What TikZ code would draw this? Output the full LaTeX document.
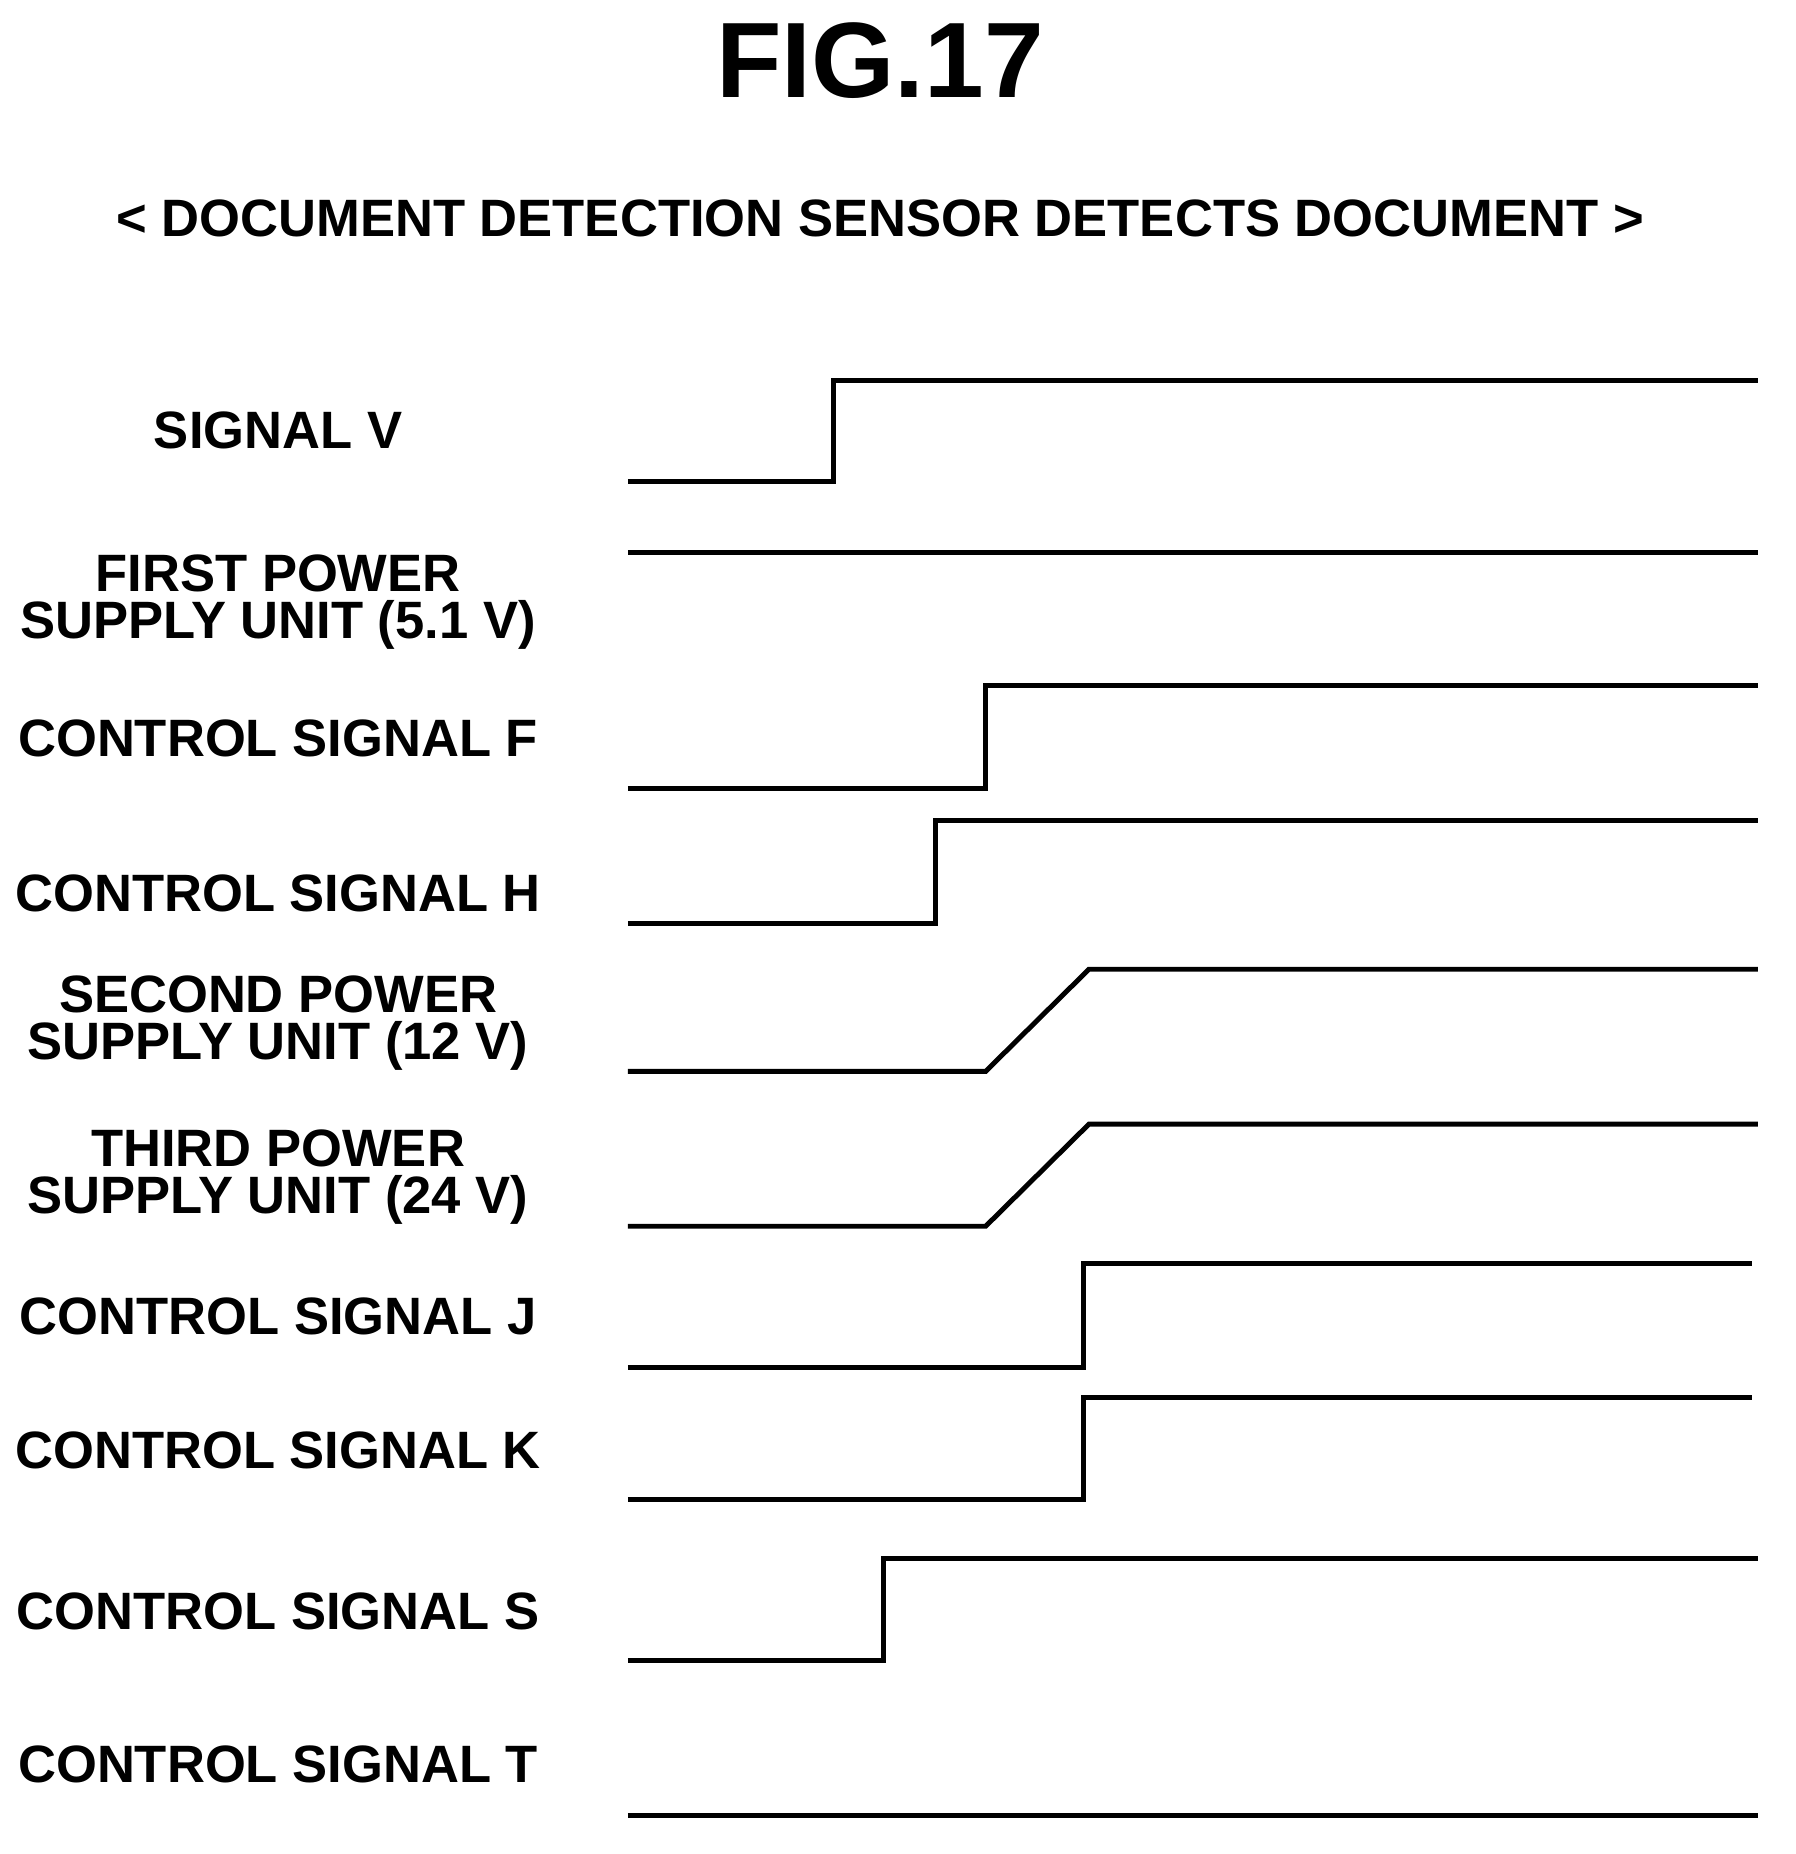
\documentclass[tikz,border=0pt]{standalone}
\usepackage{fontspec}
\setmainfont{Liberation Sans}
\begin{document}
\begin{tikzpicture}[x=0.02cm,y=-0.02cm]
	\tikzset{sig/.style={line width=2.4pt,line join=miter},
		lbl/.style={font=\bfseries\fontsize{25.5}{23}\selectfont,align=center}}
	\useasboundingbox (0,0) rectangle (1530,1580);
	\node (title) at (750,52) {\bfseries\fontsize{52}{52}\selectfont FIG.17};
	\node[lbl] (sub) at (750,186) {< DOCUMENT DETECTION SENSOR DETECTS DOCUMENT >};
	% labels
	\node[lbl] (lv) at (237,367) {SIGNAL V};
	\node[lbl] (lp1) at (237,513) {FIRST POWER\\SUPPLY UNIT (5.1 V)};
	\node[lbl] (lf) at (237,629) {CONTROL SIGNAL F};
	\node[lbl] (lh) at (237,761) {CONTROL SIGNAL H};
	\node[lbl] (lp2) at (237,872) {SECOND POWER\\SUPPLY UNIT (12 V)};
	\node[lbl] (lp3) at (237,1003) {THIRD POWER\\SUPPLY UNIT (24 V)};
	\node[lbl] (lj) at (237,1122) {CONTROL SIGNAL J};
	\node[lbl] (lk) at (237,1236) {CONTROL SIGNAL K};
	\node[lbl] (ls) at (237,1373) {CONTROL SIGNAL S};
	\node[lbl] (lt) at (237,1504) {CONTROL SIGNAL T};
	% step signals: low y / high y / edge x / end x
	\foreach \lo/\hi/\t/\e in {410/324/710/1498, 672/584/840/1498, 787/699/797/1498,
		1165/1077/923/1493, 1278/1191/923/1493, 1415/1328/753/1498}
		\draw[sig] (535,\lo) -- (\t,\lo) -- (\t,\hi) -- (\e,\hi);
	% ramps
	\foreach \lo/\hi in {913/826, 1045/958}
		\draw[sig] (535,\lo) -- (840,\lo) -- (928,\hi) -- (1498,\hi);
	% flat
	\draw[sig] (535,471) -- (1498,471);
	\draw[sig] (535,1547) -- (1498,1547);
\end{tikzpicture}
\end{document}
